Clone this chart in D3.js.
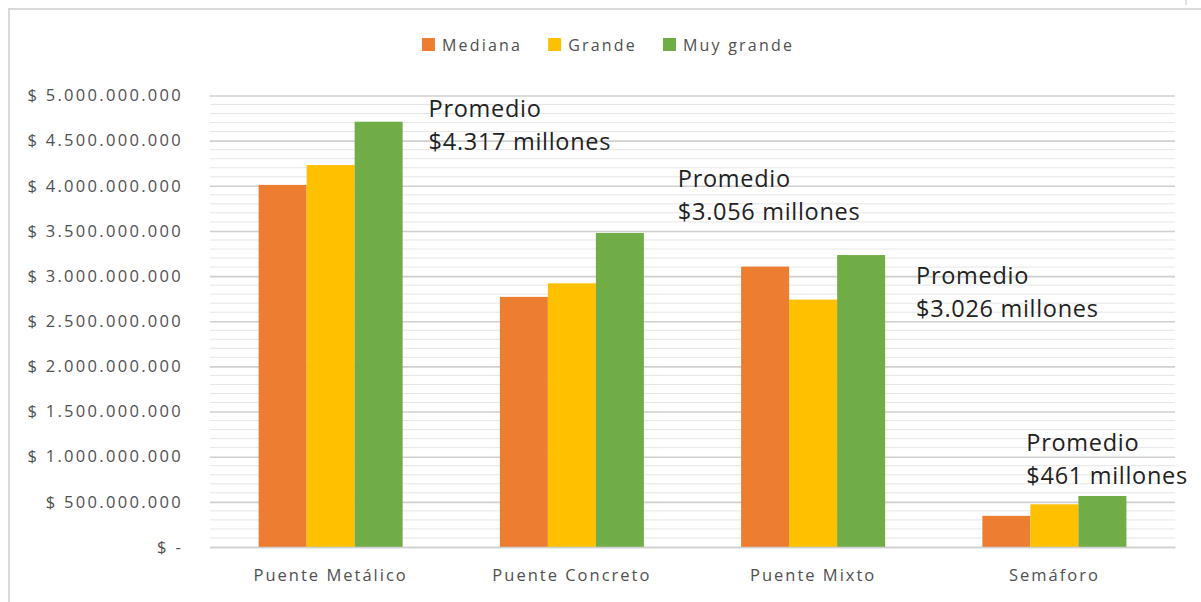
<!DOCTYPE html>
<html>
<head>
<meta charset="utf-8">
<script src="https://cdn.jsdelivr.net/npm/d3@7"></script>
<style>
  html, body { margin: 0; padding: 0; background: #fff; }
  svg { display: block; }
</style>
</head>
<body>
<svg id="chart" width="1201" height="602"></svg>
<script>
// Costo por tipo de obra y tamaño (pesos)
const categories = ["Puente Metálico", "Puente Concreto", "Puente Mixto", "Semáforo"];
const seriesNames = ["Mediana", "Grande", "Muy grande"];
const seriesColors = ["#ED7D31", "#FFC000", "#70AD47"];
const mediana   = [4010000000, 2770000000, 3105000000, 345000000];
const grande    = [4230000000, 2920000000, 2740000000, 473000000];
const muyGrande = [4710000000, 3478000000, 3233000000, 565000000];
const yTicks = [0, 500000000, 1000000000, 1500000000, 2000000000, 2500000000,
                3000000000, 3500000000, 4000000000, 4500000000, 5000000000];

const series = [mediana, grande, muyGrande];

const svg = d3.select("#chart");
const W = 1201, H = 602;
const plot = { left: 210, right: 1175, top: 95.5, bottom: 547 };

svg.append("rect").attr("width", W).attr("height", H).attr("fill", "#fff");

// chart frame
svg.append("line").attr("x1", 8).attr("x2", W).attr("y1", 9).attr("y2", 9)
  .attr("stroke", "#d9d9d9").attr("stroke-width", 2);
svg.append("line").attr("x1", 9).attr("x2", 9).attr("y1", 8).attr("y2", H)
  .attr("stroke", "#d9d9d9").attr("stroke-width", 2);
svg.append("line").attr("x1", 1186).attr("x2", 1186).attr("y1", 0).attr("y2", 5)
  .attr("stroke", "#d9d9d9").attr("stroke-width", 1.5);

const y = d3.scaleLinear().domain([0, 5000000000]).range([plot.bottom, plot.top]);
const x0 = d3.scaleBand().domain(categories).range([plot.left, plot.right])
  .paddingInner(0.403).paddingOuter(0.2015);
const x1 = d3.scaleBand().domain(seriesNames).range([0, x0.bandwidth()]);

const locale = d3.formatLocale({ decimal: ",", thousands: ".", grouping: [3], currency: ["$", ""] });
const fmtInt = locale.format(",.0f");
const fmtTick = v => v === 0 ? "$ -" : "$ " + fmtInt(v);

// minor gridlines every 100 millones
const minor = d3.range(0, 5000000001, 100000000).filter(v => v % 500000000 !== 0);
svg.append("g").selectAll("line").data(minor).join("line")
  .attr("x1", plot.left).attr("x2", plot.right)
  .attr("y1", d => y(d)).attr("y2", d => y(d))
  .attr("stroke", "#e6e6e6").attr("stroke-width", 1);

// major gridlines and y labels through a d3 axis
const yAxis = d3.axisLeft(y).tickValues(yTicks).tickFormat(fmtTick)
  .tickSize(-(plot.right - plot.left)).tickPadding(27);
const gy = svg.append("g").attr("transform", `translate(${plot.left},0)`).call(yAxis);
gy.select(".domain").remove();
gy.selectAll(".tick line").attr("stroke", "#d0d0d0").attr("stroke-width", 1.6);
gy.selectAll(".tick text")
  .attr("fill", "#505050")
  .style("font-family", "'Open Sans', sans-serif")
  .style("font-size", "16.5px")
  .style("letter-spacing", "2.3px");

// bars
const groups = svg.append("g").selectAll("g").data(categories).join("g")
  .attr("transform", d => `translate(${x0(d)},0)`);
groups.selectAll("rect")
  .data((c, i) => series.map((s, k) => ({ key: seriesNames[k], value: s[i], color: seriesColors[k] })))
  .join("rect")
  .attr("x", d => x1(d.key))
  .attr("width", x1.bandwidth())
  .attr("y", d => y(d.value))
  .attr("height", d => y(0) - y(d.value))
  .attr("fill", d => d.color);

// category axis
const xAxis = d3.axisBottom(x0).tickSize(0).tickPadding(22);
const gx = svg.append("g").attr("transform", `translate(0,${plot.bottom})`).call(xAxis);
gx.select(".domain").attr("stroke", "#d0d0d0").attr("stroke-width", 1.6);
gx.selectAll(".tick text")
  .attr("fill", "#505050")
  .style("font-family", "'Open Sans', sans-serif")
  .style("font-size", "16.5px")
  .style("letter-spacing", "2px");

// legend
const legend = svg.append("g");
let lx = 0;
seriesNames.forEach((name, k) => {
  const item = legend.append("g").attr("transform", `translate(${lx},0)`);
  item.append("rect").attr("x", 0).attr("y", 38).attr("width", 13).attr("height", 13)
    .attr("fill", seriesColors[k]);
  const t = item.append("text").attr("x", 20).attr("y", 51)
    .attr("fill", "#505050")
    .style("font-family", "'Open Sans', sans-serif")
    .style("font-size", "16px")
    .style("letter-spacing", "2.2px")
    .text(name);
  lx += 20 + t.node().getComputedTextLength() + 26;
});
const lw = lx - 26;
legend.attr("transform", `translate(${608 - lw / 2},0)`);

// average annotations per category
const fmtMillones = v => "$" + fmtInt(Math.round(v / 1e6)) + " millones";
const notePlacement = [
  { dx: 170, at: 4762000000 },
  { dx: 178, at: 3987000000 },
  { dx: 175, at: 2912000000 },
  { dx: 44,  at: 1063000000 }
];
categories.forEach((c, i) => {
  const avg = d3.mean(series, s => s[i]);
  const g = svg.append("text")
    .attr("fill", "#222")
    .style("font-family", "'Open Sans', sans-serif")
    .style("font-size", "23.5px")
    .style("letter-spacing", "0.7px");
  const px = x0(c) + notePlacement[i].dx;
  const py = y(notePlacement[i].at);
  g.append("tspan").attr("x", px).attr("y", py).text("Promedio");
  g.append("tspan").attr("x", px).attr("y", py + 33).text(fmtMillones(avg));
});
</script>
</body>
</html>
